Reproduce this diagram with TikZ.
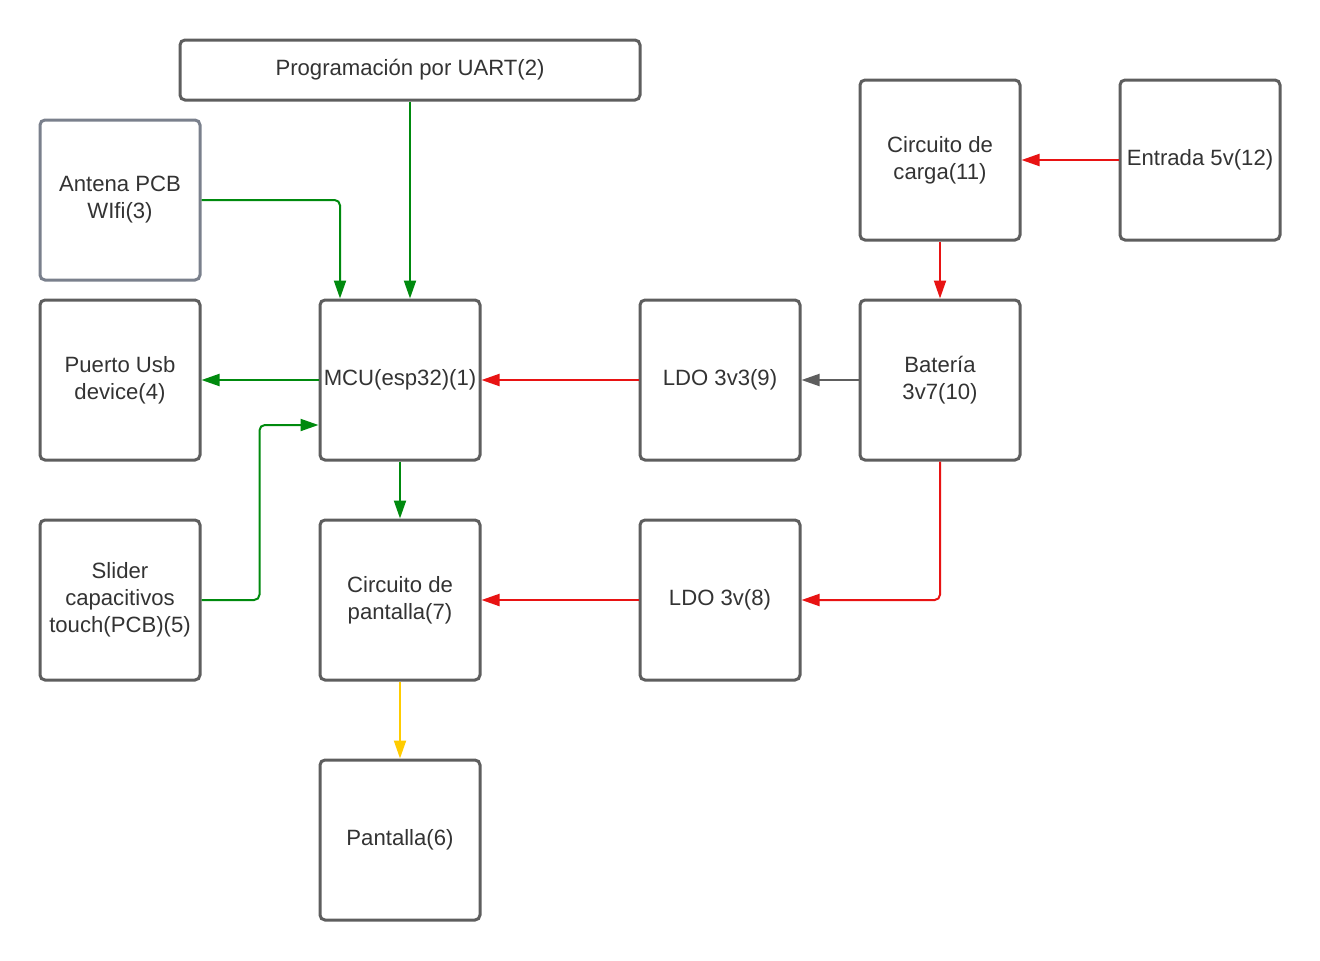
\documentclass[tikz,border=0pt]{standalone}
\usepackage{fontspec}
\setmainfont{Liberation Sans}
\usetikzlibrary{arrows.meta,calc}
\definecolor{boxgray}{HTML}{5E5E5E}
\definecolor{antgray}{HTML}{7A808C}
\definecolor{txtgray}{HTML}{333333}
\definecolor{lgreen}{HTML}{008A0E}
\definecolor{lred}{HTML}{E81313}
\definecolor{lyellow}{HTML}{FFCC00}
\begin{document}
\begin{tikzpicture}[x=0.75pt,y=-0.75pt,
  box/.style={draw=boxgray, fill=white, line width=2.25pt, rounded corners=3.75pt,
    minimum width=120pt, minimum height=120pt, align=center,
    font=\fontsize{16.6}{20.25}\selectfont, text=txtgray, inner sep=0pt},
  conn/.style={line width=1.5pt, -{Triangle[length=13.5pt,width=9pt]}, rounded corners=4pt}]
\useasboundingbox[fill=white] (0,0) rectangle (1320,960);
\node[box, minimum width=345pt, minimum height=45pt] (prog) at (410,70) {Programación por UART(2)};
\node[box, draw=antgray] (ant) at (120,200) {Antena PCB\\WIfi(3)};
\node[box] (usb) at (120,380) {Puerto Usb\\device(4)};
\node[box] (mcu) at (400,380) {MCU(esp32)(1)};
\node[box] (ldo33) at (720,380) {LDO 3v3(9)};
\node[box] (bat) at (940,380) {Batería\\3v7(10)};
\node[box] (carga) at (940,160) {Circuito de\\carga(11)};
\node[box] (ent) at (1200,160) {Entrada 5v(12)};
\node[box] (slider) at (120,600) {Slider\\capacitivos\\touch(PCB)(5)};
\node[box] (cpant) at (400,600) {Circuito de\\pantalla(7)};
\node[box] (ldo3) at (720,600) {LDO 3v(8)};
\node[box] (pant) at (400,840) {Pantalla(6)};

\draw[conn, lgreen] (prog.south) -- (prog.south |- mcu.north);
\draw[conn, lgreen] (ant.east) -| ($(mcu.north)+(-60,0)$);
\draw[conn, lgreen] (mcu.west) -- (usb.east);
\draw[conn, lgreen] (slider.east) -- ++(58,0) |- ($(mcu.west)+(0,45)$);
\draw[conn, lgreen] (mcu.south) -- (cpant.north);
\draw[conn, lyellow] (cpant.south) -- (pant.north);
\draw[conn, lred] (ldo33.west) -- (mcu.east);
\draw[conn, boxgray] (bat.west) -- (ldo33.east);
\draw[conn, lred] (bat.south) |- (ldo3.east);
\draw[conn, lred] (ldo3.west) -- (cpant.east);
\draw[conn, lred] (carga.south) -- (bat.north);
\draw[conn, lred] (ent.west) -- (carga.east);
\end{tikzpicture}
\end{document}
